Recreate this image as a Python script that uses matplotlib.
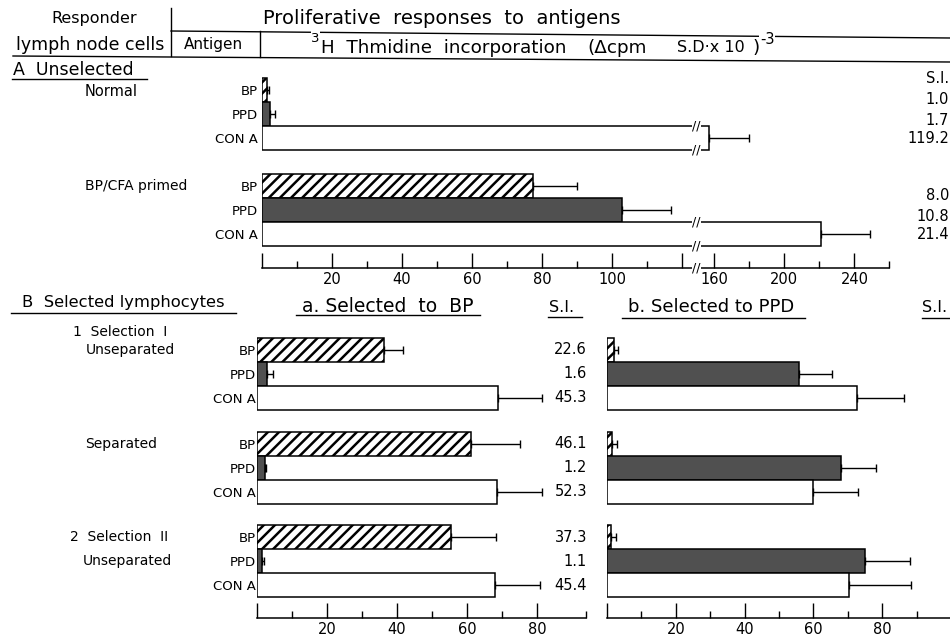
import numpy as np
import matplotlib
matplotlib.use("Agg")
import matplotlib.pyplot as plt
from matplotlib.lines import Line2D
from matplotlib.transforms import blended_transform_factory

plt.rcParams["font.family"] = ["DejaVu Sans"]
plt.rcParams["hatch.linewidth"] = 1.8

# ---- data (x 10^-3 cpm) ----
antigens = ["BP", "PPD", "CON A"]

# A. unselected
normal_mean = [1.3, 2.3, 157]
normal_sd = [0.8, 1.4, 23]
primed_mean = [77.5, 103, 221]
primed_sd = [12.5, 14, 28]
si_normal = ["1.0", "1.7", "119.2"]
si_primed = ["8.0", "10.8", "21.4"]

# B a. selected to BP
bp_sel1_mean = [36.2, 2.8, 68.8]
bp_sel1_sd = [5.6, 1.8, 12.6]
bp_sep_mean = [61.2, 2.3, 68.6]
bp_sep_sd = [13.8, 0.3, 12.8]
bp_sel2_mean = [55.5, 1.3, 67.9]
bp_sel2_sd = [12.8, 0.7, 12.9]
si_bp = [["22.6", "1.6", "45.3"], ["46.1", "1.2", "52.3"], ["37.3", "1.1", "45.4"]]

# B b. selected to PPD
ppd_sel1_mean = [2.0, 55.9, 72.6]
ppd_sel1_sd = [1.2, 9.5, 13.7]
ppd_sep_mean = [1.4, 67.9, 60.0]
ppd_sep_sd = [1.5, 10.3, 13.0]
ppd_sel2_mean = [1.1, 75.0, 70.4]
ppd_sel2_sd = [1.5, 13.0, 17.9]
si_ppd = [["0.9", "38.5", "48.5"], ["1.2", "41.2", "36.8"], ["1.0", "41.1", "38.8"]]

W, H = 950, 639
fig = plt.figure(figsize=(9.5, 6.39), dpi=100)


def fx(px):
    return px / W


def fy(py):
    return 1 - py / H


def hline(x0, y0, x1, y1, lw=1.0):
    fig.add_artist(Line2D([fx(x0), fx(x1)], [fy(y0), fy(y1)], color="black", lw=lw))


def ftext(x, y, s, size=11, ha="left", **kw):
    fig.text(fx(x), fy(y), s, fontsize=size, ha=ha, va="center", **kw)


styles = [dict(facecolor="white", hatch="///"),
          dict(facecolor="#505050"),
          dict(facecolor="white")]


def draw_group(ax, base, means, sds):
    ys = base + np.arange(3)
    for y, m, st in zip(ys, means, styles):
        ax.barh(y, m, height=1.0, edgecolor="black", linewidth=1.1, **st)
    ax.errorbar(means, ys, xerr=[np.zeros(3), sds], fmt="none", ecolor="black",
                elinewidth=1, capsize=3, capthick=1)
    return ys


def style_axis(ax):
    for s in ["top", "left", "right"]:
        ax.spines[s].set_visible(False)
    ax.spines["bottom"].set_linewidth(1.1)
    ax.tick_params(axis="x", which="major", direction="in", length=11, width=1,
                   labelsize=10.5, pad=3)
    ax.tick_params(axis="x", which="minor", direction="in", length=5, width=1)
    ax.tick_params(axis="y", length=0, labelsize=9.5, pad=3)


# ---- header table ----
hline(171, 8, 171, 56)
hline(260, 31, 260, 57)
hline(171, 31, 950, 38)
hline(13, 56, 950, 62)
ftext(94, 18, "Responder", size=11.5, ha="center")
ftext(90, 45, "lymph node cells", size=12.5, ha="center")
ftext(213, 45, "Antigen", ha="center")
ftext(263, 18, "Proliferative  responses  to  antigens", size=14)
ftext(311, 38, "3", size=9.5, bbox=dict(fc="white", ec="none", pad=0.3))
ftext(321, 48, "H  Thmidine  incorporation", size=13.2)
ftext(587, 48, "(Δcpm", size=13.2)
ftext(677, 48, "S.D·x 10", size=11.5)
ftext(752, 48, ")", size=13.2)
ftext(760, 40, "-3", size=10.5, bbox=dict(fc="white", ec="none", pad=0.5))

# ---- A. unselected ----
ftext(13, 70, "A  Unselected", size=12.5)
hline(12, 79, 147, 79)

lo, hi = 124.0, 150.0


def fwd(x):
    x = np.asarray(x, dtype=float)
    return np.where(x <= lo, x, np.where(x < hi, lo + (x - lo) * 0.01,
                                         lo + (hi - lo) * 0.01 + (x - hi) * 0.5))


def inv(y):
    y = np.asarray(y, dtype=float)
    y_hi = lo + (hi - lo) * 0.01
    return np.where(y <= lo, y, np.where(y < y_hi, lo + (y - lo) / 0.01,
                                         hi + (y - y_hi) * 2.0))


axA = fig.add_axes([fx(262), fy(268), 627.4 / W, (268 - 74) / H])
axA.set_xscale("function", functions=(fwd, inv))
axA.set_xlim(0, 260)
axA.set_ylim((268 - 90) / 24, (74 - 90) / 24)
rows_n = draw_group(axA, 0, normal_mean, normal_sd)
rows_p = draw_group(axA, 4, primed_mean, primed_sd)
axA.set_yticks(list(rows_n) + list(rows_p))
axA.set_yticklabels(antigens * 2)
axA.set_xticks([0, 20, 40, 60, 80, 100, 120, 160, 200, 240])
axA.set_xticklabels(["", "20", "40", "60", "80", "100", "", "160", "200", "240"])
axA.set_xticks([10, 30, 50, 70, 90, 110, 180, 220, 260], minor=True)
style_axis(axA)

# axis-break marks
brk = 137
for r in [rows_n[2], rows_p[2]]:
    for e in (-0.5, 0.5):
        axA.text(brk, r + e, "//", ha="center", va="center", fontsize=9,
                 bbox=dict(fc="white", ec="none", pad=0))
axA.text(brk, 0, "//", ha="center", va="center", fontsize=9,
         transform=blended_transform_factory(axA.transData, axA.transAxes),
         bbox=dict(fc="white", ec="none", pad=0), clip_on=False)

trA = blended_transform_factory(fig.transFigure, axA.transData)
axA.text(fx(85), rows_n[0] + 0.05, "Normal", fontsize=10.5, va="center", transform=trA)
axA.text(fx(85), rows_p[0], "BP/CFA primed", fontsize=10, va="center", transform=trA)
axA.text(fx(926), rows_n[0] - 0.5, "S.I.", fontsize=10.5, va="center", transform=trA)
si_shift = [0.4, 0.25, 0.0]
for rows, vals in [(rows_n, si_normal), (rows_p, si_primed)]:
    for r, s, d in zip(rows, vals, si_shift):
        axA.text(fx(949), r + d, s, fontsize=10.5, ha="right", va="center", transform=trA)

# ---- B. selected lymphocytes ----
ftext(22, 303, "B  Selected lymphocytes", size=11.8)
hline(11, 313, 236, 313)
ftext(302, 306, "a. Selected  to  BP", size=13.5)
hline(296, 315, 480, 315)
ftext(549, 307, "S.I.", size=11.5)
hline(548, 317, 582, 317)
ftext(628, 307, "b. Selected to PPD", size=13)
hline(622, 318, 805, 318)
ftext(922, 307, "S.I.", size=11.5)
hline(922, 318, 950, 318)

bases = [0, 3.9, 7.8]
ylimB = ((618 - 350) / 24, (335 - 350) / 24)

axBa = fig.add_axes([fx(257), fy(618), 94 * 3.5 / W, (618 - 335) / H])
axBa.set_xlim(0, 94)
axBa.set_ylim(*ylimB)
rows_a = []
for b, m, s in zip(bases, [bp_sel1_mean, bp_sep_mean, bp_sel2_mean],
                   [bp_sel1_sd, bp_sep_sd, bp_sel2_sd]):
    rows_a += list(draw_group(axBa, b, m, s))
axBa.set_yticks(rows_a)
axBa.set_yticklabels(antigens * 3)
axBa.set_xticks([0, 20, 40, 60, 80])
axBa.set_xticklabels(["", "20", "40", "60", "80"])
axBa.set_xticks([10, 30, 50, 70, 94], minor=True)
style_axis(axBa)
axBa.tick_params(axis="y", pad=1)

axBb = fig.add_axes([fx(607), fy(618), (W - 607) / W, (618 - 335) / H])
axBb.set_xlim(0, (W - 607) / 3.44)
axBb.set_ylim(*ylimB)
rows_b = []
for b, m, s in zip(bases, [ppd_sel1_mean, ppd_sep_mean, ppd_sel2_mean],
                   [ppd_sel1_sd, ppd_sep_sd, ppd_sel2_sd]):
    rows_b += list(draw_group(axBb, b, m, s))
axBb.set_yticks([])
axBb.set_xticks([0, 20, 40, 60, 80])
axBb.set_xticklabels(["", "20", "40", "60", "80"])
axBb.set_xticks([10, 30, 50, 70, 90], minor=True)
style_axis(axBb)

trB = blended_transform_factory(fig.transFigure, axBa.transData)
for r, s in zip(rows_a, sum(si_bp, [])):
    axBa.text(fx(587), r, s, fontsize=10.5, ha="right", va="center", transform=trB)
for r, s in zip(rows_b, sum(si_ppd, [])):
    axBa.text(fx(949), r, s, fontsize=10.5, ha="right", va="center", transform=trB)

group_labels = [("1  Selection  I", 73, -0.75), ("Unseparated", 86, 0.0),
                ("Separated", 85, 3.9), ("2  Selection  II", 70, 7.8),
                ("Unseparated", 83, 8.8)]
for s, x, r in group_labels:
    axBa.text(fx(x), r, s, fontsize=10, va="center", transform=trB)

fig.savefig("out.png", dpi=100)
